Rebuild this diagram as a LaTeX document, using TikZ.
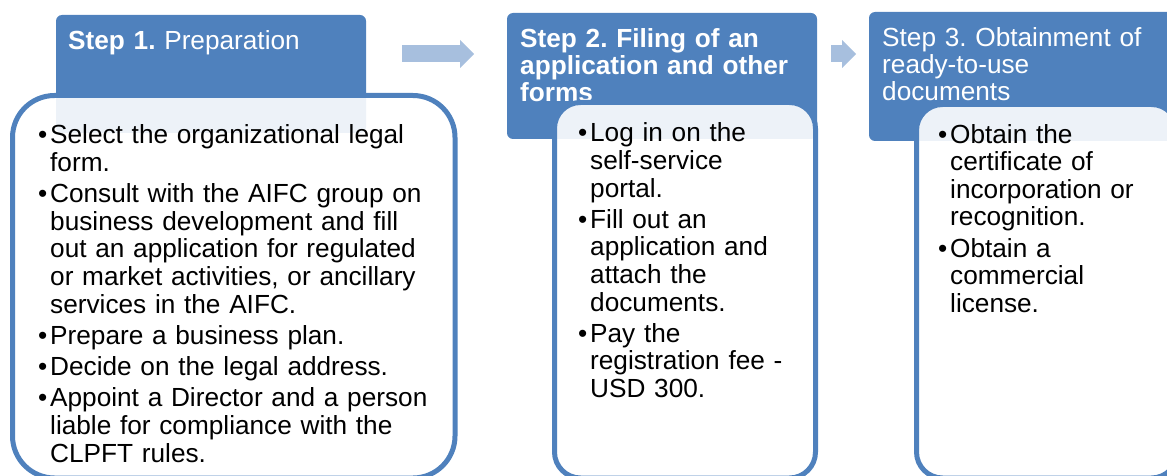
\documentclass[tikz,border=0pt]{standalone}
\usepackage{fontspec}
\setmainfont{Liberation Sans}
\usetikzlibrary{arrows.meta, calc, positioning}
\definecolor{stepblue}{HTML}{4F81BD}
\definecolor{flowblue}{HTML}{A7BFDE}
\tikzset{
    head/.style={
           rectangle,
           rounded corners=6pt,
           fill=stepblue,
           minimum width=310pt,
           inner sep=0pt, outer sep=0pt,
           anchor=north west,
           },
    headtext/.style={
           text=white,
           text width=300pt,
           align=left,
           inner sep=0pt,
           anchor=base west,
           font=\fontsize{26.2}{27}\selectfont\frenchspacing,
           },
    card/.style={
           rectangle,
           draw=stepblue, line width=5pt,
           fill=white, fill opacity=0.9, draw opacity=1,
           inner sep=0pt, outer sep=0pt,
           anchor=north west,
           },
    cardtext/.style={
           text width=#1,
           inner sep=0pt,
           anchor=base west,
           font=\fontsize{26.2}{27.6}\selectfont\frenchspacing,
           },
    flow/.style={
           draw=flowblue, line width=17pt,
           -{Triangle[length=14pt, width=28pt, line width=0pt]},
           },
}
\newcommand{\pitem}[1]{\noindent\makebox[12pt][l]{\textbullet}%
  \parbox[t]{\dimexpr\linewidth-12pt\relax}{\raggedright #1\strut}}
\newcommand{\pgap}{\par\prevdepth=\dp\strutbox\vspace{3.6pt}}

\begin{document}
\begin{tikzpicture}[x=1pt, y=-1pt]

 \useasboundingbox (0,0) rectangle (1167,476);
 \clip (0,0) rectangle (1167,476);

 % step headers
 \node[head, minimum height=118pt] (HEAD_1) at (56,15) {};
 \node[head, minimum height=126pt] (HEAD_2) at (507,13) {};
 \node[head, minimum height=129pt] (HEAD_3) at (869,12) {};

 \node[headtext] (HEAD_1_TXT) at ($(HEAD_1.north west)+(12,35)$)
 {%
  \textbf{Step 1.} Preparation
 };

 \node[headtext] (HEAD_2_TXT) at ($(HEAD_2.north west)+(13,35)$)
 {%
  \bfseries Step 2. Filing of an\\ application and other\\ forms
 };

 \node[headtext] (HEAD_3_TXT) at ($(HEAD_3.north west)+(13,35)$)
 {%
  Step 3. Obtainment of\\ ready-to-use\\ documents
 };

 % arrows between the steps
 \coordinate (FLOW_1_A) at (402,54);
 \coordinate (FLOW_1_B) at (474,54);
 \coordinate (FLOW_2_A) at (831,54);
 \coordinate (FLOW_2_B) at (856,54);

 \draw[flow] (FLOW_1_A) -- (FLOW_1_B);
 \draw[flow] (FLOW_2_A) -- (FLOW_2_B);

 % cards with the tasks
 \node[card, rounded corners=42pt,
  minimum width=442.5pt,
  minimum height=382.5pt] (BODY_1) at (12.5,95.5) {};

 \node[card, rounded corners=26pt,
  minimum width=261pt,
  minimum height=375.5pt] (BODY_2) at (554.5,102.5) {};

 \node[card, rounded corners=26pt,
  minimum width=261pt,
  minimum height=373.5pt] (BODY_3) at (916.5,104.5) {};

 \node[cardtext=410pt] (BODY_1_TXT) at ($(BODY_1.north west)+(25.5,48.5)$)
 {%
  \pitem{Select the organizational legal\\ form.}\pgap
  \pitem{Consult with the AIFC group on\\ business development and fill\\
   out an application for regulated\\ or market activities, or ancillary\\
   services in the AIFC.}\pgap
  \pitem{Prepare a business plan.}\pgap
  \pitem{Decide on the legal address.}\pgap
  \pitem{Appoint a Director and a person\\ liable for compliance with the\\
   CLPFT rules.}
 };

 \node[cardtext=230pt] (BODY_2_TXT) at ($(BODY_2.north west)+(23.5,39.5)$)
 {%
  \pitem{Log in on the\\ self-service\\ portal.}\pgap
  \pitem{Fill out an\\ application and\\ attach the\\ documents.}\pgap
  \pitem{Pay the\\ registration fee -\\ USD 300.}
 };

 \node[cardtext=230pt] (BODY_3_TXT) at ($(BODY_3.north west)+(21.5,38.5)$)
 {%
  \pitem{Obtain the\\ certificate of\\ incorporation or\\ recognition.}\pgap
  \pitem{Obtain a\\ commercial\\ license.}
 };

\end{tikzpicture}
\end{document}
